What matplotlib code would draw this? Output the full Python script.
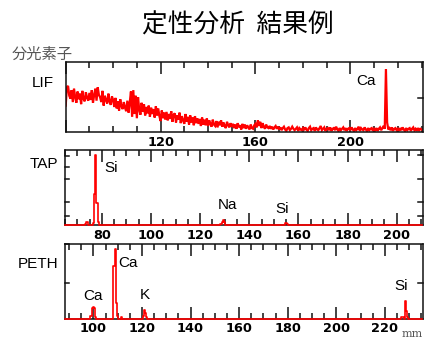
import numpy as np
import matplotlib
matplotlib.use('Agg')
import matplotlib.pyplot as plt
from matplotlib.ticker import MultipleLocator, FixedLocator, FixedFormatter

# ---------------- data ----------------
title = "定性分析  結果例"
crystal_header = "分光素子"
crystals = ["LIF", "TAP", "PETH"]

# LIF: intensity (% of full scale) on a 0.5 mm grid from 80 to 230 mm
lif_start, lif_step = 80.0, 0.5
lif_values = [
    38, 64, 66, 52, 48, 60, 43, 62, 50, 42, 58, 47, 55, 40, 59, 48, 44, 57, 49, 45,
    56, 46, 60, 42, 53, 62, 45, 64, 53, 50, 43, 59, 38, 52, 46, 41, 55, 44, 39, 51,
    46, 36, 49, 34, 44, 31, 47, 37, 33, 43, 35, 30, 45, 28, 42, 58, 22, 60, 26, 52,
    20, 50, 32, 25, 42, 29, 40, 24, 36, 27, 38, 22, 35, 26, 33, 21, 37, 24, 34, 23,
    16, 31, 20, 28, 18, 29, 17, 26, 19, 30, 15, 25, 27, 14, 24, 18, 28, 13, 23, 17,
    12, 26, 15, 22, 11, 24, 14, 21, 10, 23, 13, 20, 12, 19, 9, 21, 11, 18, 10, 20,
    9, 17, 12, 8, 18, 11, 9, 16, 7, 15, 10, 17, 8, 14, 9, 6, 15, 10, 7, 13,
    8, 12, 6, 11, 5, 13, 7, 10, 4, 12, 6, 11, 5, 10, 7, 4, 11, 6, 5, 10,
    12, 7, 17, 9, 15, 6, 13, 8, 5, 11, 7, 6, 9, 5, 8, 4, 7, 9, 5, 8,
    4, 7, 3, 6, 8, 4, 2, 6, 7, 3, 5, 8, 5, 3, 5, 7, 2, 6, 4, 3,
    6, 3, 7, 4, 2, 6, 8, 3, 5, 6, 2, 7, 4, 3, 6, 9, 3, 5, 7, 2,
    5, 6, 3, 7, 2, 5, 6, 3, 8, 4, 2, 6, 3, 5, 7, 3, 6, 2, 5, 6,
    3, 7, 4, 2, 6, 3, 5, 8, 2, 6, 4, 3, 7, 4, 2, 6, 3, 5, 6, 2,
    5, 3, 6, 2, 5, 7, 3, 6, 9, 5, 90, 14, 4, 6, 3, 7, 2, 5, 6, 3,
    5, 2, 6, 3, 7, 4, 2, 6, 3, 5, 6, 2, 5, 7, 3, 5, 2, 6, 3, 5,
    4,
]

# TAP: non-zero channels (mm -> %), baseline 0 elsewhere
tap_range = (65.0, 210.6)
tap_peak_pos = [73.5, 74.0, 74.5, 76.5, 77.0, 77.5, 78.0, 78.5, 128.5, 129.0, 129.5, 130.0, 130.5, 155.0, 155.5]
tap_peak_val = [2, 4, 1, 3, 41, 93, 30, 4, 2, 4, 7, 5, 1, 3, 2]

# PETH: non-zero channels (mm -> %)
peth_range = (88.3, 235.6)
peth_peak_pos = [99.0, 99.5, 100.0, 100.5, 101.0, 108.5, 109.0, 109.5, 110.0, 111.5,
                 120.5, 121.0, 121.5, 122.0, 227.0, 227.5, 228.5, 229.0, 229.5]
peth_peak_val = [4, 14, 16, 15, 2, 70, 93, 21, 4, 3,
                 4, 12, 8, 2, 2, 3, 24, 11, 2]

# element labels: (text, x in mm, y in %)
lif_labels = [("Ca", 206.7, 73)]
tap_labels = [("Si", 83.7, 76), ("Na", 131.0, 27), ("Si", 153.2, 21)]
peth_labels = [("Ca", 114.1, 75), ("Ca", 99.7, 30), ("K", 121.3, 32), ("Si", 226.9, 44)]

lif_major = [80, 120, 160, 200]
lif_major_labels = ["", "120", "160", "200"]
tap_major = [80, 100, 120, 140, 160, 180, 200]
peth_major = [100, 120, 140, 160, 180, 200, 220]

# ---------------- figure ----------------
W, H = 424, 338
fig = plt.figure(figsize=(W / 100, H / 100), dpi=100)
RED = "#ff0000"


def box(l, t, r, b):
    return [l / W, 1 - b / H, (r - l) / W, (b - t) / H]


def style(ax, xlim, major, major_labels, minor_step, yticks_l, yticks_r, pad):
    ax.set_xlim(*xlim)
    ax.set_ylim(0, 100)
    for s in ax.spines.values():
        s.set_linewidth(1.1)
        s.set_color("#111111")
    ax.xaxis.set_major_locator(FixedLocator(major))
    ax.xaxis.set_major_formatter(FixedFormatter(major_labels))
    ax.xaxis.set_minor_locator(MultipleLocator(minor_step))
    ax.tick_params(axis="x", which="both", direction="in", top=True, bottom=True,
                   width=1.1, color="#111111", pad=pad)
    ax.tick_params(axis="x", which="major", length=8.5)
    ax.tick_params(axis="x", which="minor", length=4.2)
    for lab in ax.get_xticklabels():
        lab.set_fontfamily("DejaVu Sans")
        lab.set_fontweight("bold")
        lab.set_fontsize(9.3)
    ax.set_yticks([])
    for y in yticks_l:
        ax.plot([0, 0.012], [y, y], transform=ax.get_yaxis_transform(), color="#111111",
                lw=1.1, clip_on=False, zorder=4)
    for y in yticks_r:
        ax.plot([0.988, 1.0], [y, y], transform=ax.get_yaxis_transform(), color="#111111",
                lw=1.1, clip_on=False, zorder=4)


def spectrum(rng, pos, val):
    x = np.arange(rng[0], rng[1] + 1e-9, 0.5)
    x = np.round(x * 2) / 2
    x = x[(x >= rng[0]) & (x <= rng[1])]
    y = np.zeros_like(x)
    for p, v in zip(pos, val):
        y[np.argmin(np.abs(x - p))] = v
    return x, y


lab_font = dict(family="Liberation Sans", fontsize=11, color="black")

# LIF
ax1 = fig.add_axes(box(65.7, 62, 422.7, 132.3))
lif_x = lif_start + lif_step * np.arange(len(lif_values))
ax1.plot(lif_x, lif_values, color=RED, lw=1.6, zorder=2, solid_joinstyle="miter")
style(ax1, (80, 230.5), lif_major, lif_major_labels, 10, [], [49], 3)
for t, x, y in lif_labels:
    ax1.text(x, y, t, ha="center", va="center", **lab_font)

# TAP
ax2 = fig.add_axes(box(65, 150, 422.7, 225.3))
tx, ty = spectrum(tap_range, tap_peak_pos, tap_peak_val)
ax2.plot(tx, ty, color=RED, lw=1.2, drawstyle="steps-mid", clip_on=False, zorder=3)
style(ax2, tap_range, tap_major, [str(v) for v in tap_major], 5,
      [13, 31, 61, 77, 92], [12, 31, 62, 93], 2.5)
for t, x, y in tap_labels:
    ax2.text(x, y, t, ha="center", va="center", **lab_font)

# PETH
ax3 = fig.add_axes(box(65, 243.7, 422.7, 319))
px, py = spectrum(peth_range, peth_peak_pos, peth_peak_val)
ax3.plot(px, py, color=RED, lw=1.2, drawstyle="steps-mid", clip_on=False, zorder=3)
style(ax3, peth_range, peth_major, [str(v) for v in peth_major], 5,
      [48, 100], [48], 2.2)
for t, x, y in peth_labels:
    ax3.text(x, y, t, ha="center", va="center", **lab_font)

# side labels
fig.text(53.3 / W, 1 - 83.3 / H, crystals[0], ha="right", va="center", **lab_font)
fig.text(58.3 / W, 1 - 163.8 / H, crystals[1], ha="right", va="center", **lab_font)
fig.text(58.3 / W, 1 - 264 / H, crystals[2], ha="right", va="center", **lab_font)

fig.text(237.5 / W, 1 - 26 / H, title, ha="center", va="center",
         family=["Noto Sans CJK JP", "DejaVu Sans"], fontsize=18.5, color="black")
fig.text(11.7 / W, 1 - 54 / H, crystal_header, ha="left", va="center",
         family=["Noto Sans CJK JP", "DejaVu Sans"], fontsize=11, color="#555555")
fig.text(401.7 / W, 1 - 334 / H, "mm", ha="left", va="center",
         family="DejaVu Serif", fontsize=8, color="#555555")

fig.savefig("out.png", dpi=100)
